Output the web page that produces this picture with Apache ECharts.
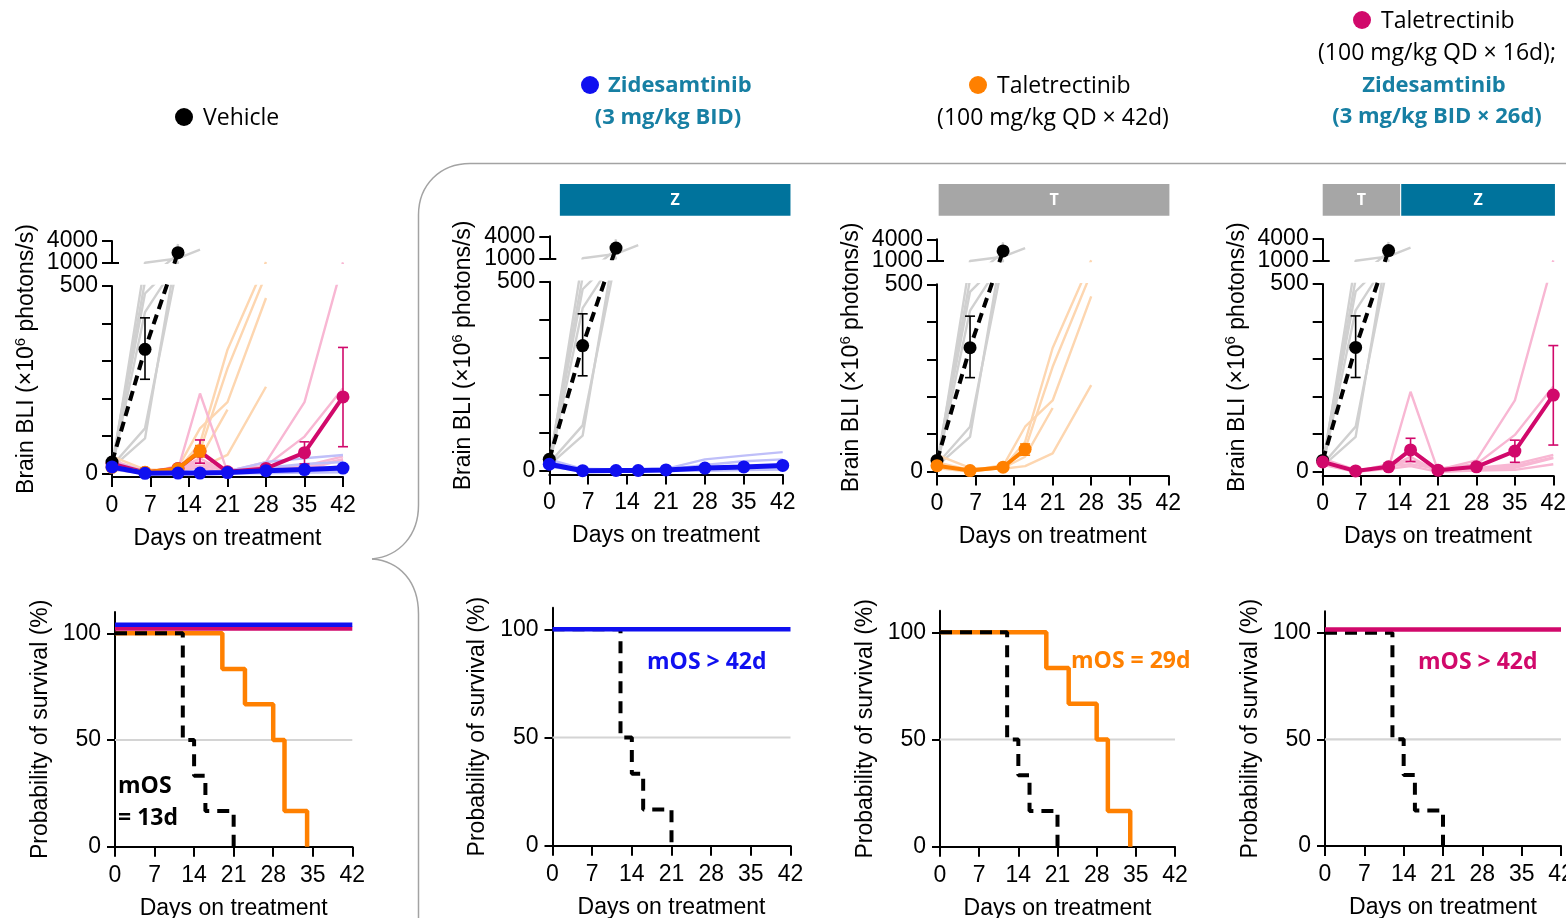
<!DOCTYPE html>
<html><head><meta charset="utf-8">
<script src="https://cdn.jsdelivr.net/npm/echarts@6/dist/echarts.min.js"></script>
<style>html,body{margin:0;padding:0;background:#fff}#c{width:1566px;height:918px}</style>
</head><body><div id="c"></div>
<script>
// ---------------- DATA ----------------
const DAYS = [0, 6, 12, 16, 21, 28, 35, 42];
const X_TICKS_INTERVAL = 7;
const BLI_LOWER_TICKS = [0, 100, 200, 300, 400, 500];
const BLI_LOWER_LABELS = [0, 500];
const BLI_UPPER_TICKS = [1000, 4000];
const SURV_TICKS = [0, 50, 100];

// group means (×10^6 photons/s) at DAYS
const vehicleMean = [30, 331, 2400];
const zideMean = [17, 0, 0.5, 0.5, 2, 7, 10, 14];
const taleMean = [16, 3, 12, 60];
const seqMean = [26, 2, 13, 58, 4, 13, 55, 204];

// error bars: [day, low, high]
const vehicleErr = [[6, 251, 415]];
const zideErr = [];
const taleErr = [[16, 44, 74]];
const seqErr = [[16, 27, 89], [35, 25, 84], [42, 71, 336]];

// individual mice at DAYS
const vehicleMice = [
  [15, 93, 3600],
  [20, 120, 1100],
  [12, 430, 1200],
  [25, 600, 2200],
  [10, 1000, 1600, 2800],
  [18, 480, 1300]
];
const zideMice = [
  [30, 5, 3, 3, 5, 30, 40, 49],
  [20, 0, 0, 0, 3, 15, 25, 30],
  [15, 0, 0, 0, 0, 5, 8, 10],
  [10, 0, 0, 0, 0, 0, 2, 3],
  [25, 3, 2, 2, 2, 5, 8, 12],
  [12, 0, 0, 0, 0, 2, 3, 5]
];
const taleMice = [
  [45, 10, 8, 15, 49, 231],
  [20, 3, 15, 120, 190, 468],
  [15, 2, 10, 80, 330, 1100],
  [10, 0, 12, 60, 280, 750],
  [25, 5, 10, 40, 170],
  [18, 2, 18, 50]
];
const seqMice = [
  [35, 5, 10, 213, 3, 10, 20, 45],
  [30, 0, 20, 30, 5, 30, 190, 1050],
  [25, 2, 15, 20, 8, 20, 98, 227],
  [20, 0, 10, 40, 0, 5, 15, 38],
  [28, 3, 12, 30, 4, 8, 10, 36],
  [18, 0, 8, 15, 0, 3, 5, 20]
];

// Kaplan-Meier survival: [day, %]
const survVehicle = [[0, 100], [12, 50], [14, 33.3], [16, 16.7], [21, 0]];
const survTale = [[0, 100], [19, 83.3], [23, 66.7], [28, 50], [30, 16.7], [34, 0]];
const survZide = [[0, 100], [42, 100]];
const survSeq = [[0, 100], [42, 100]];
const MEDIAN_LEVEL = 50;

// treatment schedule bars: [startDay, endDay, label]
const treatP2 = [[1.9, 43.4, 'Z']];
const treatP3 = [[0.3, 42.2, 'T']];
const treatP4 = [[0, 14.1, 'T'], [14.3, 42.3, 'Z']];

// ---------------- STYLE / LAYOUT ----------------
const AFONT = '"Liberation Sans", Arial, sans-serif';
const HFONT = '"Open Sans", "Noto Sans", sans-serif';
const TICK_FS = 23, TITLE_FS = 23;
const C = {
  vehicle: '#000000', zide: '#1010f0', tale: '#ff8000', seq: '#d1096b',
  teal: '#177fa3', zbar: '#00739c', tbar: '#a6a6a6'
};
const LIGHT = { vehicle: '#d0d0d0', zide: '#bfbff9', tale: '#fdd6b0', seq: '#f8b7d3' };

// broken y-axis: 0–500 linear, gap, 1000–4000 compressed
const BREAK_LO = 500, BREAK_HI = 1000, AXIS_TOP = 4000, GAP_U = 62, UPPER_U = 58, LOWER_MIN = -10;
function brk(v) {
  if (v <= BREAK_LO) return v;
  if (v >= BREAK_HI) return BREAK_LO + GAP_U + (v - BREAK_HI) / (AXIS_TOP - BREAK_HI) * UPPER_U;
  return BREAK_LO + (v - BREAK_LO) / (BREAK_HI - BREAK_LO) * GAP_U;
}
function unbrk(d) {
  if (d <= BREAK_LO) return d;
  if (d >= BREAK_LO + GAP_U) return BREAK_HI + (d - BREAK_LO - GAP_U) / UPPER_U * (AXIS_TOP - BREAK_HI);
  return BREAK_LO + (d - BREAK_LO) / GAP_U * (BREAK_HI - BREAK_LO);
}

const BLI_LAYOUT = [
  { left: 112, width: 231, y500: 286, y0: 473.3 },
  { left: 549.3, width: 233.4, y500: 281.7, y0: 470.7 },
  { left: 937, width: 231.3, y500: 284.3, y0: 471.7 },
  { left: 1322.7, width: 230.6, y500: 284, y0: 471.7 }
];
const SURV_LAYOUT = [
  { left: 115, width: 237.3, y0: 846.7, y100: 633.3 },
  { left: 552.5, width: 238, y0: 845.7, y100: 629.3 },
  { left: 940, width: 235, y0: 846.7, y100: 632.3 },
  { left: 1325, width: 236, y0: 846, y100: 632.7 }
];
const GROUPS = {
  vehicle: { mice: vehicleMice, mean: vehicleMean, err: vehicleErr, width: 4, dash: [10, 6], surv: survVehicle },
  zide: { mice: zideMice, mean: zideMean, err: zideErr, width: 5, surv: survZide },
  tale: { mice: taleMice, mean: taleMean, err: taleErr, width: 4, surv: survTale },
  seq: { mice: seqMice, mean: seqMean, err: seqErr, width: 4, surv: survSeq }
};
const BLI_PANELS = [
  { light: ['vehicle', 'tale', 'seq', 'zide'], mean: ['seq', 'tale', 'vehicle', 'zide'] },
  { light: ['vehicle', 'zide'], mean: ['vehicle', 'zide'] },
  { light: ['vehicle', 'tale'], mean: ['vehicle', 'tale'] },
  { light: ['vehicle', 'seq'], mean: ['vehicle', 'seq'] }
];
const SURV_PANELS = [
  { curves: ['tale', 'vehicle', 'seq', 'zide'], lift: { seq: 2.3, zide: 4 } },
  { curves: ['vehicle', 'zide'], lift: {} },
  { curves: ['tale', 'vehicle'], lift: {} },
  { curves: ['vehicle', 'seq'], lift: { seq: 1.5 } }
];
const TREATS = [null, treatP2, treatP3, treatP4];

// ---------------- BUILD ----------------
const grids = [], xAxes = [], yAxes = [], series = [];
function addGrid(r) { grids.push(Object.assign({ outerBoundsMode: 'none', containLabel: false }, r)); return grids.length - 1; }
function addX(a) { xAxes.push(a); return xAxes.length - 1; }
function addY(a) { yAxes.push(a); return yAxes.length - 1; }
const axLine = { show: true, onZero: false, lineStyle: { color: '#000', width: 2 } };
const tickStyle = { color: '#000', width: 2 };

function daysAxis(g) {
  return {
    type: 'value', gridIndex: g, min: 0, max: 42, interval: X_TICKS_INTERVAL,
    axisLine: axLine, axisTick: { show: true, length: 10, lineStyle: tickStyle },
    axisLabel: { show: true, fontSize: TICK_FS, color: '#000', fontFamily: AFONT, margin: 17 },
    splitLine: { show: false },
    name: 'Days on treatment', nameLocation: 'middle', nameGap: 50,
    nameTextStyle: { fontSize: TITLE_FS, color: '#000', fontFamily: AFONT }
  };
}
function hiddenX(g) { return { type: 'value', gridIndex: g, min: 0, max: 42, show: false }; }
// one upper-segment axis per labelled value, so both labels stay visible
function upperAxis(g, value, withLine, innerTick) {
  return {
    type: 'value', gridIndex: g, position: 'left', offset: 0, min: brk(BREAK_HI), max: brk(AXIS_TOP),
    axisLine: withLine ? axLine : { show: false, onZero: false },
    axisTick: innerTick
      ? { show: true, inside: true, length: 7, customValues: [brk(value)], lineStyle: tickStyle }
      : { show: true, length: 10, customValues: [brk(value)], lineStyle: tickStyle },
    axisLabel: innerTick ? { show: false } : { show: true, customValues: [brk(value)], fontSize: TICK_FS, color: '#000', fontFamily: AFONT, margin: 14,
      formatter: v => String(Math.round(unbrk(v))) },
    splitLine: { show: false }
  };
}

BLI_LAYOUT.forEach((L, pi) => {
  const s = (L.y0 - L.y500) / BREAK_LO;
  const upTop = L.y500 - s * (GAP_U + UPPER_U);
  const gLow = addGrid({ left: L.left, top: L.y500, width: L.width, height: s * (BREAK_LO - LOWER_MIN) });
  const gUp = addGrid({ left: L.left, top: upTop, width: L.width, height: s * UPPER_U });
  const gName = addGrid({ left: L.left, top: upTop, width: L.width, height: (L.y500 + s * (BREAK_LO - LOWER_MIN)) - upTop });
  const xLow = addX(daysAxis(gLow));
  const xUp = addX(hiddenX(gUp));
  addX(hiddenX(gName));
  const yLow = addY({
    type: 'value', gridIndex: gLow, min: LOWER_MIN, max: BREAK_LO,
    axisLine: axLine,
    axisTick: { show: true, length: 10, customValues: BLI_LOWER_TICKS, lineStyle: tickStyle },
    axisLabel: { show: true, customValues: BLI_LOWER_LABELS, fontSize: TICK_FS, color: '#000', fontFamily: AFONT, margin: 14 },
    splitLine: { show: false }
  });
  const yUp = addY(upperAxis(gUp, BLI_UPPER_TICKS[1], true, false));
  addY(upperAxis(gUp, BLI_UPPER_TICKS[0], false, false));
  addY(upperAxis(gUp, BLI_UPPER_TICKS[0], false, true));
  addY({
    type: 'value', gridIndex: gName, min: 0, max: 1,
    axisLine: { show: false }, axisTick: { show: false }, axisLabel: { show: false }, splitLine: { show: false },
    name: 'Brain BLI (×10{sup|6} photons/s)', nameLocation: 'middle', nameGap: 72,
    nameTextStyle: { fontSize: TITLE_FS, lineHeight: 27, color: '#000', fontFamily: AFONT,
      rich: { sup: { fontSize: 15, lineHeight: 15, verticalAlign: 'top', color: '#000', fontFamily: AFONT } } }
  });

  const P = BLI_PANELS[pi];
  [[xLow, yLow], [xUp, yUp]].forEach(([xi, yi]) => {
    P.light.forEach(key => {
      GROUPS[key].mice.forEach(m => {
        series.push({
          type: 'line', xAxisIndex: xi, yAxisIndex: yi, silent: true, z: 2,
          data: m.map((v, i) => [DAYS[i], brk(v)]), symbol: 'none',
          lineStyle: { color: LIGHT[key], width: 2.4 }, itemStyle: { color: LIGHT[key] }
        });
      });
    });
    P.mean.forEach((key, k) => {
      const G = GROUPS[key];
      series.push({
        type: 'line', xAxisIndex: xi, yAxisIndex: yi, silent: true, z: 4 + k,
        data: G.mean.map((v, i) => [DAYS[i], brk(v)]),
        symbol: 'circle', symbolSize: 13, showSymbol: true,
        lineStyle: { color: C[key], width: G.width, type: G.dash ? G.dash : 'solid' },
        itemStyle: { color: C[key], borderWidth: 0 }
      });
      if (G.err.length && yi === yLow) {
        series.push({
          type: 'custom', xAxisIndex: xi, yAxisIndex: yi, silent: true, z: 4 + k,
          data: G.err.map(e => [e[0], brk(e[1]), brk(e[2])]),
          renderItem: (params, api) => {
            const lo = api.coord([api.value(0), api.value(1)]);
            const hi = api.coord([api.value(0), api.value(2)]);
            const w = 5, st = { stroke: C[key], lineWidth: 1.6 };
            return { type: 'group', children: [
              { type: 'line', shape: { x1: lo[0], y1: lo[1], x2: hi[0], y2: hi[1] }, style: st },
              { type: 'line', shape: { x1: hi[0] - w, y1: hi[1], x2: hi[0] + w, y2: hi[1] }, style: st },
              { type: 'line', shape: { x1: lo[0] - w, y1: lo[1], x2: lo[0] + w, y2: lo[1] }, style: st }
            ] };
          }
        });
      }
    });
  });

  // treatment schedule bar
  const T = TREATS[pi];
  if (T) {
    const gT = addGrid({ left: L.left, top: 184, width: L.width, height: 31.7 });
    const xT = addX(hiddenX(gT));
    const yT = addY({ type: 'value', gridIndex: gT, min: 0, max: 1, show: false });
    series.push({
      type: 'custom', xAxisIndex: xT, yAxisIndex: yT, silent: true, z: 3,
      data: T.map(t => [t[0], t[1]]),
      renderItem: (params, api) => {
        const a = api.coord([api.value(0), 0]);
        const b = api.coord([api.value(1), 0]);
        const cs = params.coordSys;
        const lab = T[params.dataIndex][2];
        return { type: 'group', children: [
          { type: 'rect', shape: { x: a[0], y: cs.y, width: b[0] - a[0], height: cs.height },
            style: { fill: lab === 'Z' ? C.zbar : C.tbar } },
          { type: 'text', x: (a[0] + b[0]) / 2, y: cs.y + cs.height / 2 + 1,
            style: { text: lab, fill: '#fff', fontSize: 16, fontWeight: 'bold', fontFamily: HFONT, align: 'center', verticalAlign: 'middle' } }
        ] };
      }
    });
  }
});

SURV_LAYOUT.forEach((L, pi) => {
  const s = (L.y0 - L.y100) / 100;
  const g = addGrid({ left: L.left, top: L.y0 - s * 110, width: L.width, height: s * 110 });
  const xi = addX(daysAxis(g));
  const yi = addY({
    type: 'value', gridIndex: g, min: 0, max: 110,
    axisLine: axLine,
    axisTick: { show: true, length: 8, customValues: SURV_TICKS, lineStyle: tickStyle },
    axisLabel: { show: true, customValues: SURV_TICKS, fontSize: TICK_FS, color: '#000', fontFamily: AFONT, margin: 14 },
    splitLine: { show: false },
    name: 'Probability of survival (%)', nameLocation: 'middle', nameGap: 63,
    nameTextStyle: { fontSize: TITLE_FS, color: '#000', fontFamily: AFONT }
  });
  series.push({
    type: 'line', xAxisIndex: xi, yAxisIndex: yi, silent: true, z: 1, symbol: 'none',
    data: [[0, MEDIAN_LEVEL], [42, MEDIAN_LEVEL]], lineStyle: { color: '#d4d4d4', width: 2.2 }
  });
  const P = SURV_PANELS[pi];
  P.curves.forEach((key, k) => {
    const lift = P.lift[key] || 0;
    const dashed = key === 'vehicle';
    series.push({
      type: 'line', xAxisIndex: xi, yAxisIndex: yi, silent: true, z: 3 + k, symbol: 'none', step: 'end',
      data: GROUPS[key].surv.map(p => [p[0], p[1] + lift]),
      lineStyle: { color: C[key], width: dashed ? 4 : 4.5, type: dashed ? [12, 8] : 'solid', cap: 'butt' }
    });
  });
});

// ---------------- DECORATION / TEXT ----------------
function txt(x, y, text, opt) {
  return { type: 'text', x, y, z: 100, style: Object.assign({ text, fontSize: 23, fontFamily: HFONT, fill: '#000', align: 'left', verticalAlign: 'middle' }, opt || {}) };
}
function dot(cx, cy, color) { return { type: 'circle', z: 100, shape: { cx, cy, r: 9 }, style: { fill: color } }; }
const BR = { stroke: '#a3a3a3', lineWidth: 1.5, fill: null };
function seg(x1, y1, x2, y2) { return { type: 'line', z: 0, shape: { x1, y1, x2, y2 }, style: BR }; }
function bez(x1, y1, cpx1, cpy1, cpx2, cpy2, x2, y2) { return { type: 'bezierCurve', z: 0, shape: { x1, y1, cpx1, cpy1, cpx2, cpy2, x2, y2 }, style: BR }; }
const BOLD = { fontWeight: 'bold', fontSize: 22 };
const graphic = [
  seg(1570, 163.5, 470, 163.5),
  bez(470, 163.5, 440, 163.5, 418.5, 185, 418.5, 215),
  seg(418.5, 215, 418.5, 505),
  bez(418.5, 505, 418.5, 535, 400, 556, 372, 559),
  bez(372, 559, 400, 561, 418.5, 582, 418.5, 614),
  seg(418.5, 614, 418.5, 925),
  dot(184, 117, C.vehicle), txt(203, 118, 'Vehicle'),
  dot(590, 85, C.zide), txt(608, 86, 'Zidesamtinib', Object.assign({ fill: C.teal }, BOLD)),
  txt(668, 118, '(3 mg/kg BID)', Object.assign({ fill: C.teal, align: 'center' }, BOLD)),
  dot(978, 85, C.tale), txt(997, 86, 'Taletrectinib'),
  txt(1053, 118, '(100 mg/kg QD × 42d)', { align: 'center' }),
  dot(1362, 20, C.seq), txt(1381, 21, 'Taletrectinib'),
  txt(1437, 53, '(100 mg/kg QD × 16d);', { align: 'center' }),
  txt(1434, 86, 'Zidesamtinib', Object.assign({ fill: C.teal, align: 'center' }, BOLD)),
  txt(1437, 117, '(3 mg/kg BID × 26d)', Object.assign({ fill: C.teal, align: 'center' }, BOLD)),
  txt(118, 786, 'mOS', { fontWeight: 'bold' }),
  txt(118, 818, '= 13d', { fontWeight: 'bold' }),
  txt(647, 662, 'mOS > 42d', { fontWeight: 'bold', fill: C.zide }),
  txt(1071, 661, 'mOS = 29d', { fontWeight: 'bold', fill: C.tale }),
  txt(1418, 662, 'mOS > 42d', { fontWeight: 'bold', fill: C.seq })
];

const chart = echarts.init(document.getElementById('c'), null, { renderer: 'canvas', width: 1566, height: 918 });
chart.setOption({
  animation: false, backgroundColor: '#ffffff',
  grid: grids, xAxis: xAxes, yAxis: yAxes, series, graphic
});
</script></body></html>
